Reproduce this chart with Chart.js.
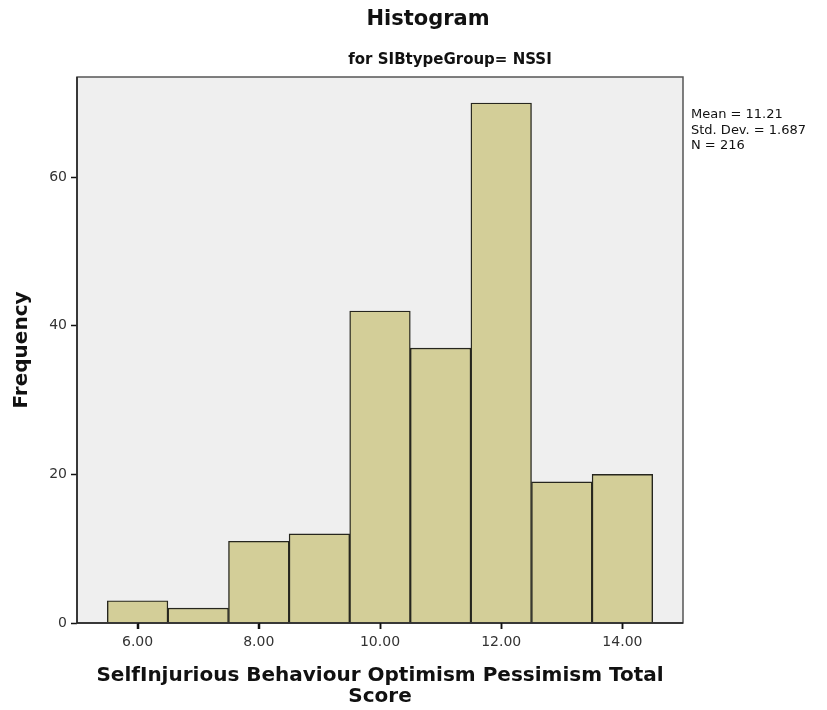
<!DOCTYPE html>
<html>
<head>
<meta charset="utf-8">
<script src="https://cdn.jsdelivr.net/npm/chart.js@4.4.1/dist/chart.umd.min.js"></script>
<style>
  html, body { margin: 0; padding: 0; background: #fff; }
  #wrap { width: 827px; height: 710px; position: relative; }
</style>
</head>
<body>
<div id="wrap"><canvas id="hist"></canvas></div>
<script>
// 히스토그램 데이터 (구간 중심값 / 빈도)
const binCenters = [6, 7, 8, 9, 10, 11, 12, 13, 14];
const frequencies = [3, 2, 11, 12, 42, 37, 70, 19, 20];
const xTickValues = [6, 8, 10, 12, 14];
const yTickValues = [0, 20, 40, 60];
const statsLines = ['Mean = 11.21', 'Std. Dev. = 1.687', 'N = 216'];
const chartTitle = 'Histogram';
const chartSubtitle = 'for SIBtypeGroup= NSSI';
const xTitle = ['SelfInjurious Behaviour Optimism Pessimism Total', 'Score'];
const yTitle = 'Frequency';

const FONT = '"DejaVu Sans", sans-serif';

// 배경, 테두리, 눈금, 제목, 통계 텍스트
const decorPlugin = {
    id: 'decor',
    beforeDatasetsDraw(chart) {
        const { ctx, chartArea: a } = chart;
        ctx.save();
        ctx.fillStyle = '#efefef';
        ctx.fillRect(a.left, a.top, a.right - a.left, a.bottom - a.top);
        ctx.restore();
    },
    afterDraw(chart) {
        const { ctx, chartArea: a } = chart;
        ctx.save();
        ctx.strokeStyle = '#555';
        ctx.lineWidth = 1.5;
        ctx.strokeRect(a.left, a.top, a.right - a.left, a.bottom - a.top);
        ctx.strokeStyle = '#222';
        ctx.beginPath();
        ctx.moveTo(a.left, a.top);
        ctx.lineTo(a.left, a.bottom);
        ctx.lineTo(a.right, a.bottom);
        ctx.stroke();

        // x축 눈금 표시
        ctx.strokeStyle = '#111';
        ctx.beginPath();
        xTickValues.forEach(v => {
            const px = Math.round(chart.scales.x.getPixelForValue(v)) + 0.5;
            ctx.moveTo(px, a.bottom);
            ctx.lineTo(px, a.bottom + 6);
        });
        ctx.stroke();

        ctx.fillStyle = '#111';
        ctx.textAlign = 'center';
        ctx.textBaseline = 'middle';
        ctx.font = 'bold 21px ' + FONT;
        ctx.fillText(chartTitle, 428, 20);
        ctx.font = 'bold 15px ' + FONT;
        ctx.fillText(chartSubtitle, 450, 60);

        ctx.textAlign = 'left';
        ctx.font = '13px ' + FONT;
        statsLines.forEach((t, i) => ctx.fillText(t, 691, 115 + i * 15.5));
        ctx.restore();
    }
};

const ctx = document.getElementById('hist').getContext('2d');
new Chart(ctx, {
    type: 'bar',
    data: {
        datasets: [{
            data: binCenters.map((x, i) => ({ x: x, y: frequencies[i] })),
            backgroundColor: '#d3ce98',
            borderColor: '#26261e',
            borderWidth: 1.4,
            barPercentage: 1,
            categoryPercentage: 1
        }]
    },
    options: {
        responsive: true,
        maintainAspectRatio: false,
        animation: false,
        layout: { padding: { top: 77, right: 144, left: 0, bottom: 0 } },
        plugins: {
            legend: { display: false },
            tooltip: { enabled: false },
            title: { display: false }
        },
        scales: {
            x: {
                type: 'linear',
                min: 5,
                max: 15,
                offset: false,
                afterBuildTicks: s => { s.ticks = xTickValues.map(v => ({ value: v })); },
                afterFit: s => { s.height = 87; },
                ticks: {
                    color: '#333',
                    font: { family: FONT, size: 14 },
                    padding: 5,
                    callback: v => Number(v).toFixed(2)
                },
                grid: { offset: false, drawOnChartArea: false, tickLength: 6, color: '#111', tickColor: '#111', tickWidth: 1.5 },
                border: { display: false },
                title: {
                    display: true,
                    text: xTitle,
                    color: '#111',
                    font: { family: FONT, size: 20, weight: 'bold', lineHeight: 1.05 },
                    padding: { top: 0, bottom: 2.5 }
                }
            },
            y: {
                min: 0,
                max: 73.5,
                afterBuildTicks: s => { s.ticks = yTickValues.map(v => ({ value: v })); },
                afterFit: s => { s.width = 77; },
                ticks: {
                    color: '#333',
                    font: { family: FONT, size: 14 },
                    padding: 4
                },
                grid: { offset: false, drawOnChartArea: false, tickLength: 6, color: '#111', tickColor: '#111', tickWidth: 1.5 },
                border: { display: false },
                title: {
                    display: true,
                    text: yTitle,
                    color: '#111',
                    font: { family: FONT, size: 20, weight: 'bold', lineHeight: 1.05 },
                    padding: { top: 11.5, bottom: 0 }
                }
            }
        }
    },
    plugins: [decorPlugin]
});
</script>
</body>
</html>
